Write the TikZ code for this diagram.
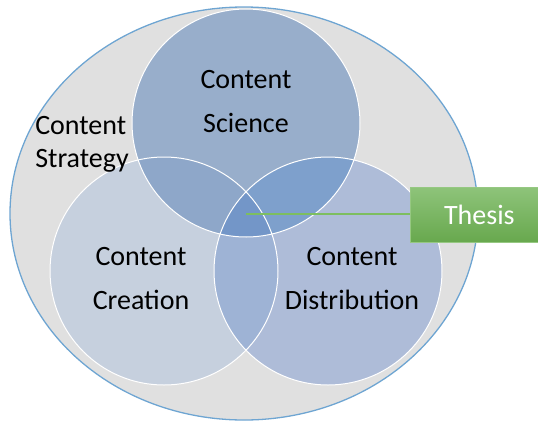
\documentclass[tikz,border=0pt]{standalone}
\usepackage{fontspec}
\setmainfont{Carlito}
\begin{document}
\begin{tikzpicture}[x=1pt,y=-1pt,
  lbl/.style={font=\fontsize{28}{44}\selectfont, align=center, inner sep=0pt, text=black},
  ring/.style={draw=white, line width=1pt}]
\definecolor{bggray}{RGB}{224,224,224}
\definecolor{edgeblue}{RGB}{110,165,210}
\definecolor{cTop}{RGB}{152,174,203}
\definecolor{cLeft}{RGB}{198,208,222}
\definecolor{cRight}{RGB}{174,188,216}
\definecolor{cTL}{RGB}{142,167,201}
\definecolor{cTR}{RGB}{126,160,204}
\definecolor{cLR}{RGB}{158,179,213}
\definecolor{cMid}{RGB}{115,150,200}
\definecolor{thTop}{RGB}{142,196,122}
\definecolor{thBot}{RGB}{104,168,78}
\definecolor{thEdge}{RGB}{150,200,130}
\definecolor{lineGreen}{RGB}{125,190,95}
\useasboundingbox (0,0) rectangle (538,421);
% outer ellipse
\fill[bggray] (244,213.5) ellipse [x radius=234, y radius=206.5];
\draw[edgeblue, line width=1.3pt] (244,213.5) ellipse [x radius=234, y radius=206.5];
\def\ctop{(246,123) circle [radius=114]}
\def\cleft{(164,271) circle [radius=114]}
\def\cright{(328,271) circle [radius=114]}
\fill[cLeft] \cleft;
\fill[cRight] \cright;
\begin{scope}\clip \cleft; \fill[cLR] \cright; \end{scope}
\fill[cTop] \ctop;
\begin{scope}\clip \ctop; \fill[cTL] \cleft; \fill[cTR] \cright;
  \clip \cleft; \fill[cMid] \cright; \end{scope}
\draw[ring] \ctop;
\draw[ring] \cleft;
\draw[ring] \cright;
% labels
\node[lbl] (science) at (246,102) {Content\\Science};
\node[lbl] (creation) at (141,279) {Content\\Creation};
\node[lbl] (distribution) at (352,279) {Content\\Distribution};
\node[lbl, font=\fontsize{28}{33}\selectfont, align=left] (strategy) at (82,144) {Content\\Strategy};
% thesis box
\coordinate (mid) at (246,214);
\node[draw=thEdge, line width=0.8pt, top color=thTop, bottom color=thBot,
  minimum width=130pt, minimum height=55pt, anchor=west, inner sep=0pt,
  text=white, font=\fontsize{28}{32}\selectfont] (thesis) at (410,214.5) {\hspace*{8pt}Thesis};
\draw[lineGreen, line width=1.5pt] (mid) -- (mid -| thesis.west);
\end{tikzpicture}
\end{document}
